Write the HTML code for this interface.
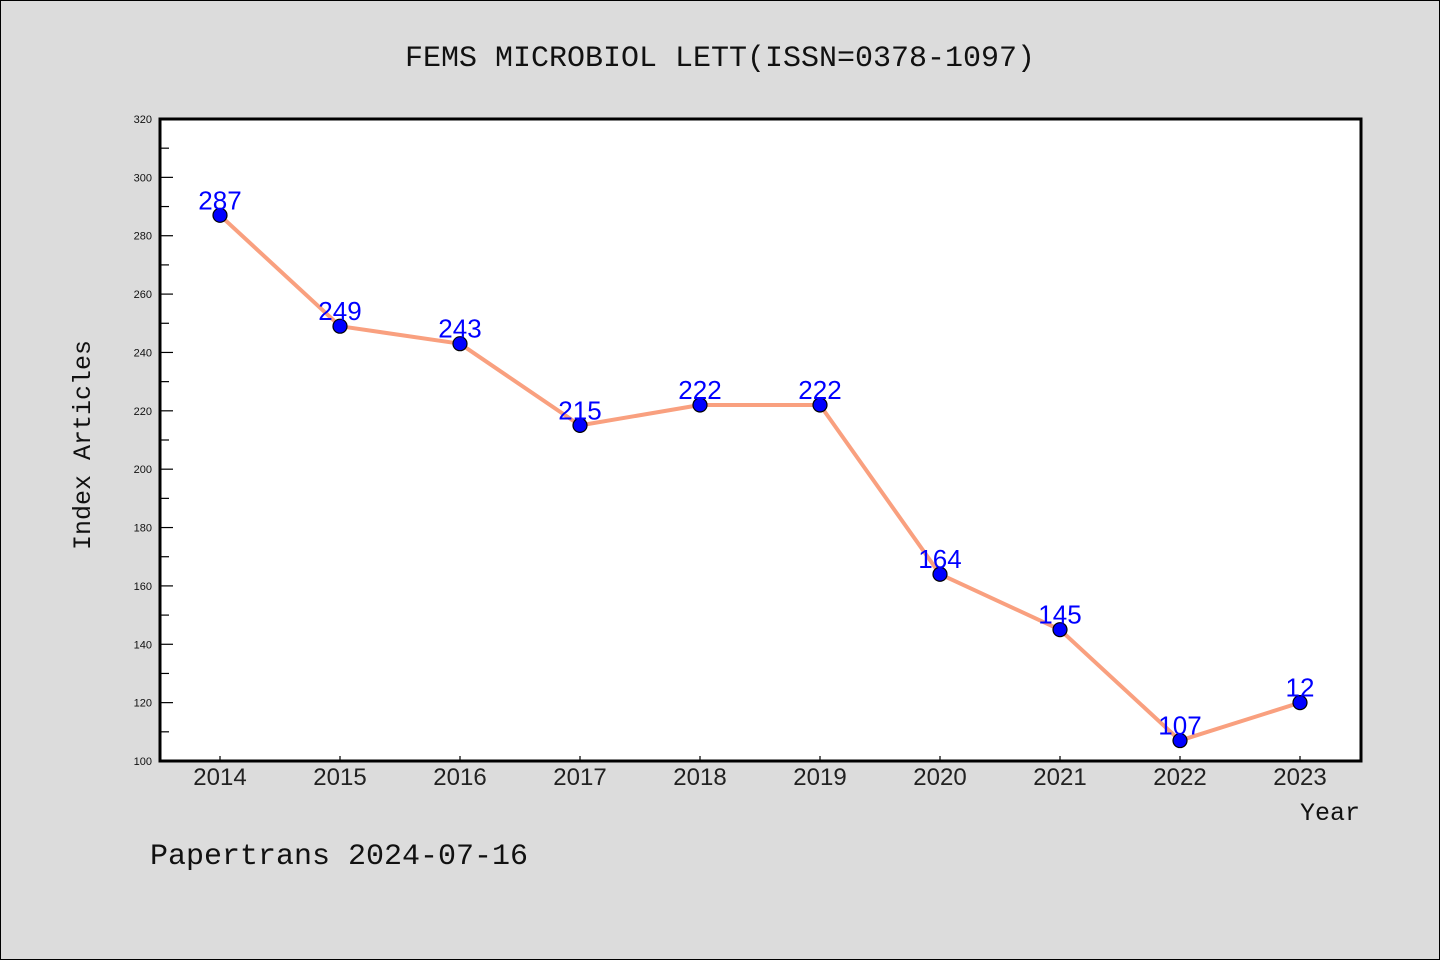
<!DOCTYPE html>
<html><head><meta charset="utf-8"><style>
body{margin:0;background:#dcdcdc;}
svg{display:block;}
text{font-family:"Liberation Sans",sans-serif;}
.mono{font-family:"Liberation Mono","DejaVu Sans Mono",monospace;}
</style></head><body>
<svg id="chart" width="1440" height="960" xmlns="http://www.w3.org/2000/svg">
<rect x="0.5" y="0.5" width="1439" height="959" fill="#dcdcdc" stroke="#000"/>
<text class="mono" x="720" y="66" font-size="30" text-anchor="middle" fill="#111">FEMS MICROBIOL LETT(ISSN=0378-1097)</text>
<rect x="160" y="119" width="1201" height="642" fill="#fff"/>
<g id="yaxis"></g>
<g id="xaxis"></g>
<g id="series"></g>
<rect x="160" y="119" width="1201" height="642" fill="none" stroke="#000" stroke-width="3"/>
<text class="mono" x="90" y="445" font-size="25" text-anchor="middle" transform="rotate(-90 90 445)" fill="#111">Index Articles</text>
<text class="mono" x="1360" y="820" font-size="25" text-anchor="end" fill="#111">Year</text>
<text class="mono" x="150" y="864" font-size="30" fill="#111">Papertrans 2024-07-16</text>
</svg>
<script>
const years = ["2014","2015","2016","2017","2018","2019","2020","2021","2022","2023"];
const values = [287,249,243,215,222,222,164,145,107,120];
const valueLabels = ["287","249","243","215","222","222","164","145","107","12"];
const yTicks = [100,120,140,160,180,200,220,240,260,280,300,320];
const NS="http://www.w3.org/2000/svg";
const yMin=100,yMax=320,plotTop=119,plotBottom=761;
function yScale(v){return plotBottom-(v-yMin)/(yMax-yMin)*(plotBottom-plotTop);}
function xScale(i){return 220+i*120;}
function mk(tag,attrs,parent){const e=document.createElementNS(NS,tag);for(const k in attrs)e.setAttribute(k,attrs[k]);parent.appendChild(e);return e;}
const ya=document.getElementById('yaxis'),xa=document.getElementById('xaxis'),sr=document.getElementById('series');
yTicks.forEach(t=>{
  const y=yScale(t);
  const l=mk('line',{x1:160,x2:173,y1:y,y2:y,stroke:'#000','stroke-width':1.2},ya);
  
  
  const tx=mk('text',{x:152,y:y+4,'font-size':11,'text-anchor':'end',fill:'#111'},ya);
  tx.textContent=t;
  
  
  if(t<yMax){const ym=yScale(t+10);
    const m=mk('line',{x1:160,x2:169,y1:ym,y2:ym,stroke:'#000','stroke-width':1.2},ya);
    
    }
});
years.forEach((yr,i)=>{
  const x=xScale(i);
  const l=mk('line',{x1:x,x2:x,y1:plotBottom,y2:plotBottom-5,stroke:'#000','stroke-width':1.2},xa);
  
  
  const tx=mk('text',{x:x,y:785,'font-size':24,'text-anchor':'middle',fill:'#222'},xa);
  tx.textContent=yr;
  
  
});
const pts=values.map((v,i)=>xScale(i)+','+yScale(v)).join(' ');
const pl=mk('polyline',{points:pts,fill:'none',stroke:'#f9a07f','stroke-width':4,'stroke-linejoin':'round'},sr);


values.forEach((v,i)=>{
  const c=mk('circle',{cx:xScale(i),cy:yScale(v),r:7,fill:'#0000ff',stroke:'#000','stroke-width':1.2},sr);
  
  
  const t=mk('text',{x:xScale(i),y:yScale(v)-6,'font-size':26,'text-anchor':'middle',fill:'#0000ff'},sr);
  t.textContent=valueLabels[i];
  
  
});
</script>
</body></html>
